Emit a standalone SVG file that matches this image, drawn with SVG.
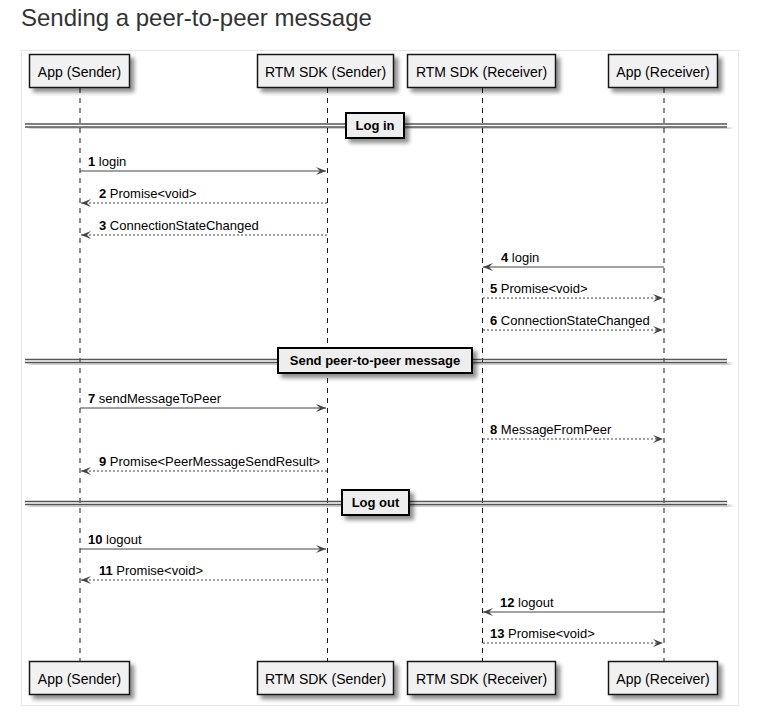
<svg xmlns="http://www.w3.org/2000/svg" width="762" height="719" viewBox="0 0 762 719">
<style>
.title{font-family:"Liberation Sans",Arial,sans-serif;font-size:24px;fill:#333}
.pbox{fill:#f1f1f1;stroke:#181818;stroke-width:1.5}
.ptxt{font-family:"Liberation Sans",Arial,sans-serif;font-size:14px;fill:#000;text-anchor:middle}
.life{stroke:#181818;stroke-width:1;stroke-dasharray:5,5;fill:none}
.msg{stroke:#444;stroke-width:1;fill:none}
.ret{stroke:#444;stroke-width:1;stroke-dasharray:2,2;fill:none}
.mtxt{font-family:"Liberation Sans",Arial,sans-serif;font-size:13px;fill:#000}
.num{font-weight:bold}
.dline{stroke:#555;stroke-width:1.3;fill:none}
.dbox{fill:#eeeeee;stroke:#000;stroke-width:2}
.dtxt{font-family:"Liberation Sans",Arial,sans-serif;font-size:13px;font-weight:bold;fill:#000;text-anchor:middle}
</style>
<defs>
<filter id="sh" x="-20%" y="-20%" width="150%" height="180%">
<feGaussianBlur in="SourceAlpha" stdDeviation="2"/>
<feOffset dx="4" dy="4" result="o"/>
<feComponentTransfer><feFuncA type="linear" slope="0.45"/></feComponentTransfer>
<feMerge><feMergeNode/><feMergeNode in="SourceGraphic"/></feMerge>
</filter>
<marker id="ah" markerUnits="userSpaceOnUse" markerWidth="11" markerHeight="9" refX="10" refY="4" orient="auto" viewBox="0 0 11 9">
<path d="M0,0 L10,4 L0,8 L4,4 Z" fill="#444"/>
</marker>
</defs>
<rect width="762" height="719" fill="#fff"/>
<text class="title" x="21" y="26">Sending a peer-to-peer message</text>
<rect x="21.5" y="50.5" width="717" height="655" fill="#fff" stroke="#e6e6e6" stroke-width="1"/>

<g id="lifelines">
<line class="life" x1="80" y1="88" x2="80" y2="661"/>
<line class="life" x1="327.5" y1="88" x2="327.5" y2="661"/>
<line class="life" x1="482.5" y1="88" x2="482.5" y2="661"/>
<line class="life" x1="664" y1="88" x2="664" y2="661"/>
</g>

<g id="p-app-sender">
<rect class="pbox" x="29.5" y="54.5" width="100" height="33" filter="url(#sh)"/>
<text class="ptxt" x="79.5" y="77">App (Sender)</text>
<rect class="pbox" x="29.5" y="661.5" width="100" height="33" filter="url(#sh)"/>
<text class="ptxt" x="79.5" y="684">App (Sender)</text>
</g>
<g id="p-rtm-sender">
<rect class="pbox" x="257.5" y="54.5" width="136" height="33" filter="url(#sh)"/>
<text class="ptxt" x="325.5" y="77">RTM SDK (Sender)</text>
<rect class="pbox" x="257.5" y="661.5" width="136" height="33" filter="url(#sh)"/>
<text class="ptxt" x="325.5" y="684">RTM SDK (Sender)</text>
</g>
<g id="p-rtm-receiver">
<rect class="pbox" x="407.5" y="54.5" width="148" height="33" filter="url(#sh)"/>
<text class="ptxt" x="481.5" y="77">RTM SDK (Receiver)</text>
<rect class="pbox" x="407.5" y="661.5" width="148" height="33" filter="url(#sh)"/>
<text class="ptxt" x="481.5" y="684">RTM SDK (Receiver)</text>
</g>
<g id="p-app-receiver">
<rect class="pbox" x="608.5" y="54.5" width="109" height="33" filter="url(#sh)"/>
<text class="ptxt" x="663" y="77">App (Receiver)</text>
<rect class="pbox" x="608.5" y="661.5" width="109" height="33" filter="url(#sh)"/>
<text class="ptxt" x="663" y="684">App (Receiver)</text>
</g>

<g id="div-login">
<g filter="url(#sh)">
<line class="dline" x1="25" y1="124" x2="727" y2="124"/>
<line class="dline" x1="25" y1="127" x2="727" y2="127"/>
</g>
<rect class="dbox" x="346" y="113" width="58" height="25" filter="url(#sh)"/>
<text class="dtxt" x="375" y="130">Log in</text>
</g>
<g id="div-send">
<g filter="url(#sh)">
<line class="dline" x1="25" y1="359.5" x2="727" y2="359.5"/>
<line class="dline" x1="25" y1="362.5" x2="727" y2="362.5"/>
</g>
<rect class="dbox" x="278" y="348" width="194" height="25" filter="url(#sh)"/>
<text class="dtxt" x="375" y="365">Send peer-to-peer message</text>
</g>
<g id="div-logout">
<g filter="url(#sh)">
<line class="dline" x1="25" y1="501.5" x2="727" y2="501.5"/>
<line class="dline" x1="25" y1="504.5" x2="727" y2="504.5"/>
</g>
<rect class="dbox" x="342" y="490" width="67" height="25" filter="url(#sh)"/>
<text class="dtxt" x="375.5" y="507">Log out</text>
</g>

<g id="connectors">
<line class="msg" x1="80" y1="171" x2="326" y2="171" marker-end="url(#ah)"/>
<text class="mtxt" x="88" y="166"><tspan class="num">1</tspan> login</text>
<line class="ret" x1="327" y1="203" x2="81" y2="203" marker-end="url(#ah)"/>
<text class="mtxt" x="99" y="198"><tspan class="num">2</tspan> Promise&lt;void&gt;</text>
<line class="ret" x1="327" y1="235" x2="81" y2="235" marker-end="url(#ah)"/>
<text class="mtxt" x="99" y="230"><tspan class="num">3</tspan> ConnectionStateChanged</text>

<line class="msg" x1="664" y1="267" x2="483" y2="267" marker-end="url(#ah)"/>
<text class="mtxt" x="501" y="262"><tspan class="num">4</tspan> login</text>
<line class="ret" x1="483" y1="298" x2="663" y2="298" marker-end="url(#ah)"/>
<text class="mtxt" x="490" y="293"><tspan class="num">5</tspan> Promise&lt;void&gt;</text>
<line class="ret" x1="483" y1="330" x2="663" y2="330" marker-end="url(#ah)"/>
<text class="mtxt" x="490" y="325"><tspan class="num">6</tspan> ConnectionStateChanged</text>

<line class="msg" x1="80" y1="408" x2="326" y2="408" marker-end="url(#ah)"/>
<text class="mtxt" x="88" y="403"><tspan class="num">7</tspan> sendMessageToPeer</text>
<line class="ret" x1="483" y1="439" x2="663" y2="439" marker-end="url(#ah)"/>
<text class="mtxt" x="490" y="434"><tspan class="num">8</tspan> MessageFromPeer</text>
<line class="ret" x1="327" y1="471" x2="81" y2="471" marker-end="url(#ah)"/>
<text class="mtxt" x="99" y="466"><tspan class="num">9</tspan> Promise&lt;PeerMessageSendResult&gt;</text>

<line class="msg" x1="80" y1="549" x2="326" y2="549" marker-end="url(#ah)"/>
<text class="mtxt" x="88" y="544"><tspan class="num">10</tspan> logout</text>
<line class="ret" x1="327" y1="580" x2="81" y2="580" marker-end="url(#ah)"/>
<text class="mtxt" x="99" y="575"><tspan class="num">11</tspan> Promise&lt;void&gt;</text>

<line class="msg" x1="664" y1="612" x2="483" y2="612" marker-end="url(#ah)"/>
<text class="mtxt" x="500" y="607"><tspan class="num">12</tspan> logout</text>
<line class="ret" x1="483" y1="643" x2="663" y2="643" marker-end="url(#ah)"/>
<text class="mtxt" x="490" y="638"><tspan class="num">13</tspan> Promise&lt;void&gt;</text>
</g>
</svg>
